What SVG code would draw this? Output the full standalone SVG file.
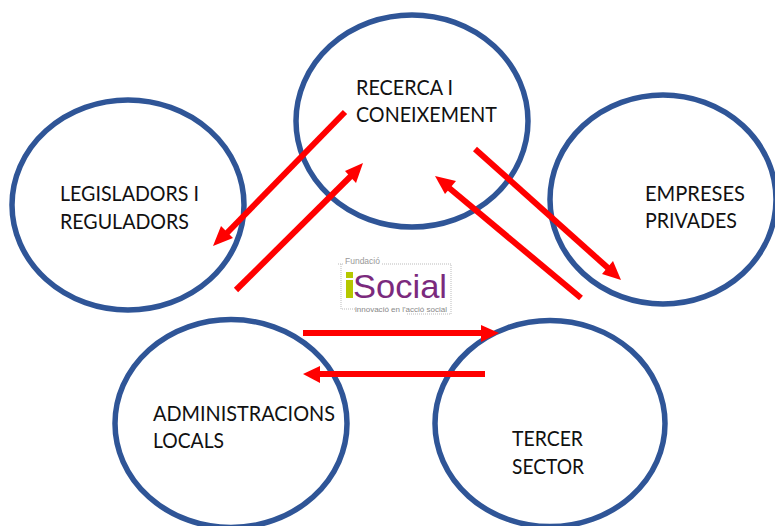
<svg xmlns="http://www.w3.org/2000/svg" width="775" height="526" viewBox="0 0 775 526">
<style>
.n{fill:none;stroke:#2f5597;stroke-width:5.5}
.t{font-family:Lato,"Liberation Sans",sans-serif;font-size:20.5px;fill:#111}
.a{stroke:#f00;stroke-width:6;fill:none}
.h{fill:#f00}
.l{font-family:"Liberation Sans",Arial,sans-serif}
.d{fill:none;stroke:#bbb;stroke-width:1;stroke-dasharray:1 1}
</style>
<rect width="775" height="526" fill="#fff"/>
<g id="node-legisladors"><ellipse class="n" cx="128" cy="205" rx="116" ry="105"/><text class="t" x="60" y="201" textLength="139" lengthAdjust="spacingAndGlyphs">LEGISLADORS I</text><text class="t" x="60" y="229" textLength="129" lengthAdjust="spacingAndGlyphs">REGULADORS</text></g>
<g id="node-recerca"><ellipse class="n" cx="412" cy="121" rx="116" ry="106"/><text class="t" x="356" y="95" textLength="97" lengthAdjust="spacingAndGlyphs">RECERCA I</text><text class="t" x="356" y="122" textLength="141" lengthAdjust="spacingAndGlyphs">CONEIXEMENT</text></g>
<g id="node-empreses"><ellipse class="n" cx="663" cy="199.500" rx="113" ry="104.500"/><text class="t" x="645" y="201" textLength="100" lengthAdjust="spacingAndGlyphs">EMPRESES</text><text class="t" x="645" y="228" textLength="92" lengthAdjust="spacingAndGlyphs">PRIVADES</text></g>
<g id="node-administracions"><ellipse class="n" cx="231" cy="423.500" rx="116" ry="104"/><text class="t" x="153" y="421" textLength="182" lengthAdjust="spacingAndGlyphs">ADMINISTRACIONS</text><text class="t" x="153" y="448" textLength="71" lengthAdjust="spacingAndGlyphs">LOCALS</text></g>
<g id="node-tercer"><ellipse class="n" cx="550" cy="423.500" rx="115" ry="103"/><text class="t" x="512" y="446" textLength="71" lengthAdjust="spacingAndGlyphs">TERCER</text><text class="t" x="512" y="474" textLength="72" lengthAdjust="spacingAndGlyphs">SECTOR</text></g>
<g id="connectors">
<line class="a" x1="345" y1="112" x2="226" y2="234"/><polygon class="h" points="213,246 221,226 233,238"/>
<line class="a" x1="236" y1="290" x2="352" y2="175"/><polygon class="h" points="363,163 356,183 345,171"/>
<line class="a" x1="475" y1="149" x2="608" y2="268"/><polygon class="h" points="621,280 602,274 613,261"/>
<line class="a" x1="581" y1="298" x2="448" y2="187"/><polygon class="h" points="435,176 456,181 445,194"/>
<line class="a" x1="303" y1="333" x2="482" y2="333"/><polygon class="h" points="499,333 481,325 481,342"/>
<line class="a" x1="485" y1="374" x2="320" y2="374"/><polygon class="h" points="303,374 320,366 320,383"/>
</g>
<g id="logo">
<path class="d" d="M338 264H344M382 264H451V314H407M341 264V309H355"/>
<rect x="346" y="272" width="7" height="6" fill="#b5c800"/>
<rect x="346" y="280" width="7" height="18" fill="#b5c800"/>
<text class="l" x="345" y="264" font-size="8.500" fill="#999">Fundació</text>
<text class="l" x="353" y="298" font-size="33" fill="#7b2a7d" textLength="94" lengthAdjust="spacingAndGlyphs">Social</text>
<text class="l" x="355" y="312" font-size="8" fill="#888" textLength="92" lengthAdjust="spacingAndGlyphs">innovació en l'acció social</text>
</g>
</svg>
